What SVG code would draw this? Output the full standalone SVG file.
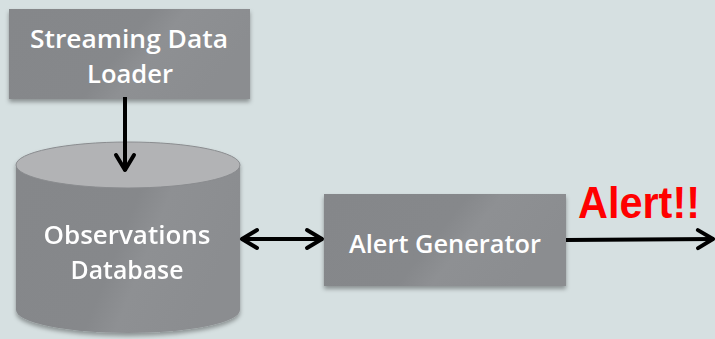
<svg xmlns="http://www.w3.org/2000/svg" width="715" height="339" viewBox="0 0 715 339">
<defs>
<style>
.box{fill:url(#g1);filter:url(#sh)}
.lbl{font-family:"Open Sans","Liberation Sans",sans-serif;font-weight:600;font-size:25px;fill:#ffffff;text-anchor:middle}
.con{stroke:#000;stroke-width:4;fill:none}
</style>
<linearGradient id="g1" x1="0" y1="0" x2="1" y2="0.3">
<stop offset="0" stop-color="#85878a"/>
<stop offset="0.55" stop-color="#86888b"/>
<stop offset="0.68" stop-color="#8e9093"/>
<stop offset="1" stop-color="#8b8d90"/>
</linearGradient>
<filter id="sh" x="-10%" y="-10%" width="120%" height="130%">
<feDropShadow dx="0" dy="3" stdDeviation="2" flood-color="#000" flood-opacity="0.35"/>
</filter>
<marker id="ah" viewBox="0 0 24 26" refX="20" refY="13" markerWidth="24" markerHeight="26" markerUnits="userSpaceOnUse" orient="auto-start-reverse">
<path d="M4,4 L19,13 L4,22" fill="none" stroke="#000" stroke-width="4" stroke-linecap="round" stroke-linejoin="round"/>
</marker>
</defs>
<rect width="715" height="339" fill="#d6e0e1"/>
<g id="loader">
<rect class="box" x="9" y="9" width="241" height="90"/>
<text class="lbl" x="129" y="48" textLength="198" lengthAdjust="spacingAndGlyphs">Streaming Data</text>
<text class="lbl" x="130" y="83" textLength="86" lengthAdjust="spacingAndGlyphs">Loader</text>
</g>
<g id="database" filter="url(#sh)">
<path d="M16,165 L16,310 A112,23 0 0 0 240,310 L240,165 Z" fill="url(#g1)"/>
<ellipse cx="128" cy="165" rx="112" ry="23" fill="#b2b3b5" stroke="#8a8c8f" stroke-width="1"/>
<text class="lbl" x="127" y="244" textLength="167" lengthAdjust="spacingAndGlyphs">Observations</text>
<text class="lbl" x="127" y="279" textLength="113" lengthAdjust="spacingAndGlyphs">Database</text>
</g>
<g id="generator">
<rect class="box" x="324" y="194" width="242" height="92"/>
<text class="lbl" x="445" y="253" textLength="192" lengthAdjust="spacingAndGlyphs">Alert Generator</text>
</g>
<g id="alert">
<text x="639" y="218" font-family="Liberation Sans,Arial,sans-serif" font-weight="bold" font-size="44" fill="#ff0000" text-anchor="middle" textLength="122" lengthAdjust="spacingAndGlyphs">Alert!!</text>
</g>
<g id="connectors">
<line class="con" x1="125" y1="97" x2="125" y2="171" marker-end="url(#ah)"/>
<line class="con" x1="241" y1="239" x2="323" y2="239" marker-start="url(#ah)" marker-end="url(#ah)"/>
<line class="con" x1="566" y1="240" x2="714" y2="239" marker-end="url(#ah)"/>
</g>
</svg>
